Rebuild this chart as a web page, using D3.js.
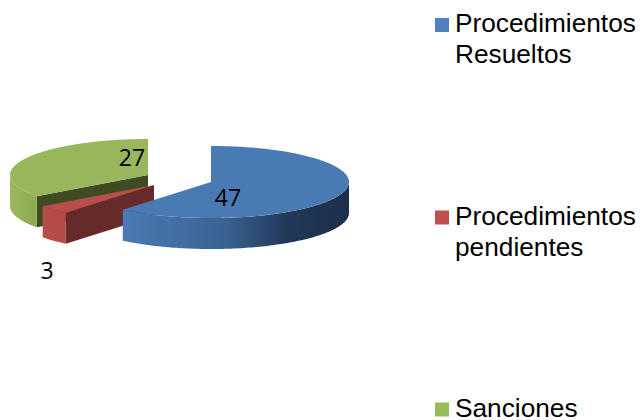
<!DOCTYPE html>
<html>
<head>
<meta charset="utf-8">
<script src="https://cdn.jsdelivr.net/npm/d3@7"></script>
<style>
  html, body { margin: 0; padding: 0; background: #fff; }
  svg { display: block; }
</style>
</head>
<body>
<svg id="chart" width="642" height="420"></svg>
<script>
const categories = ['Procedimientos Resueltos', 'Procedimientos pendientes', 'Sanciones'];
const values = [47, 3, 27];

const topColors = ['#4a7ab3', '#b84e4b', '#98b65b'];
const faceColors = ['#1d3049', '#672a2a', '#3f4c23'];
const legendColors = ['#4f81bd', '#c0504d', '#9bbb59'];
const centers = [[211, 182], [154, 185], [148, 175]];   // each slice is pulled out on its own
const labelAt = [[228, 206], [47, 279], [132, 166]];
const legendY = [32, 224.5, 416.5];

const RX = 138, RY = 36, DEPTH = 31;
const TAU = Math.PI * 2;

const svg = d3.select('#chart');
const defs = svg.append('defs');

const blueGrad = defs.append('linearGradient').attr('id', 'blue-wall');
[[0, '#4a7bb5'], [0.45, '#3a6392'], [0.72, '#22395a'], [1, '#1c2f4a']].forEach(s => {
  blueGrad.append('stop').attr('offset', s[0]).attr('stop-color', s[1]);
});
const greenGrad = defs.append('linearGradient').attr('id', 'green-wall');
[[0, '#9ab75c'], [1, '#8caa52']].forEach(s => {
  greenGrad.append('stop').attr('offset', s[0]).attr('stop-color', s[1]);
});
const redGrad = defs.append('linearGradient').attr('id', 'red-wall');
[[0, '#b84e4b'], [1, '#b34a47']].forEach(s => {
  redGrad.append('stop').attr('offset', s[0]).attr('stop-color', s[1]);
});
const wallFills = ['url(#blue-wall)', 'url(#red-wall)', 'url(#green-wall)'];

const slices = d3.pie().sort(null).value(d => d)(values);

// angle is clockwise from 12 o'clock, same as d3.pie
function project(angle, c, drop) {
  return [c[0] + Math.sin(angle) * RX, c[1] - Math.cos(angle) * RY + (drop || 0)];
}

function rim(a0, a1, c, drop) {
  const n = Math.max(2, Math.ceil((a1 - a0) / 0.02));
  return d3.range(n + 1).map(i => project(a0 + (a1 - a0) * i / n, c, drop));
}

const line = d3.line();

function drawSlice(i) {
  const s = slices[i];
  const c = centers[i];
  const g = svg.append('g').attr('class', 'slice');

  // radial face looking at the viewer, the blue one is turned away
  if (i > 0) {
    const p = project(s.startAngle, c);
    g.append('path')
      .attr('d', line([c, p, [p[0], p[1] + DEPTH], [c[0], c[1] + DEPTH]]) + 'Z')
      .attr('fill', faceColors[i]);
  }

  // outer wall, front half of the ellipse only
  const w0 = Math.max(s.startAngle, TAU / 4);
  const w1 = Math.min(s.endAngle, TAU * 3 / 4);
  if (w1 > w0) {
    const pts = rim(w0, w1, c).concat(rim(w0, w1, c, DEPTH).reverse());
    g.append('path').attr('d', line(pts) + 'Z').attr('fill', wallFills[i]);
  }

  // top
  g.append('path')
    .attr('d', line([c].concat(rim(s.startAngle, s.endAngle, c))) + 'Z')
    .attr('fill', topColors[i]);
}

[2, 1, 0].forEach(drawSlice);

values.forEach((v, i) => {
  svg.append('text')
    .attr('x', labelAt[i][0])
    .attr('y', labelAt[i][1])
    .attr('text-anchor', 'middle')
    .style('font-family', '"Open Sans", sans-serif')
    .style('font-size', '23px')
    .style('fill', '#000')
    .text(v);
});

// legend, long names wrap on the first space
const legend = svg.append('g').attr('class', 'legend');
categories.forEach((name, i) => {
  legend.append('rect')
    .attr('x', 435)
    .attr('y', legendY[i] - 14)
    .attr('width', 14)
    .attr('height', 14)
    .attr('fill', legendColors[i]);
  name.split(' ').forEach((word, j) => {
    legend.append('text')
      .attr('transform', `translate(455,${legendY[i] + j * 31}) scale(1.05,1)`)
      .style('font-family', '"Liberation Sans", Arial, sans-serif')
      .style('font-size', '25px')
      .style('fill', '#000')
      .text(word);
  });
});
</script>
</body>
</html>
